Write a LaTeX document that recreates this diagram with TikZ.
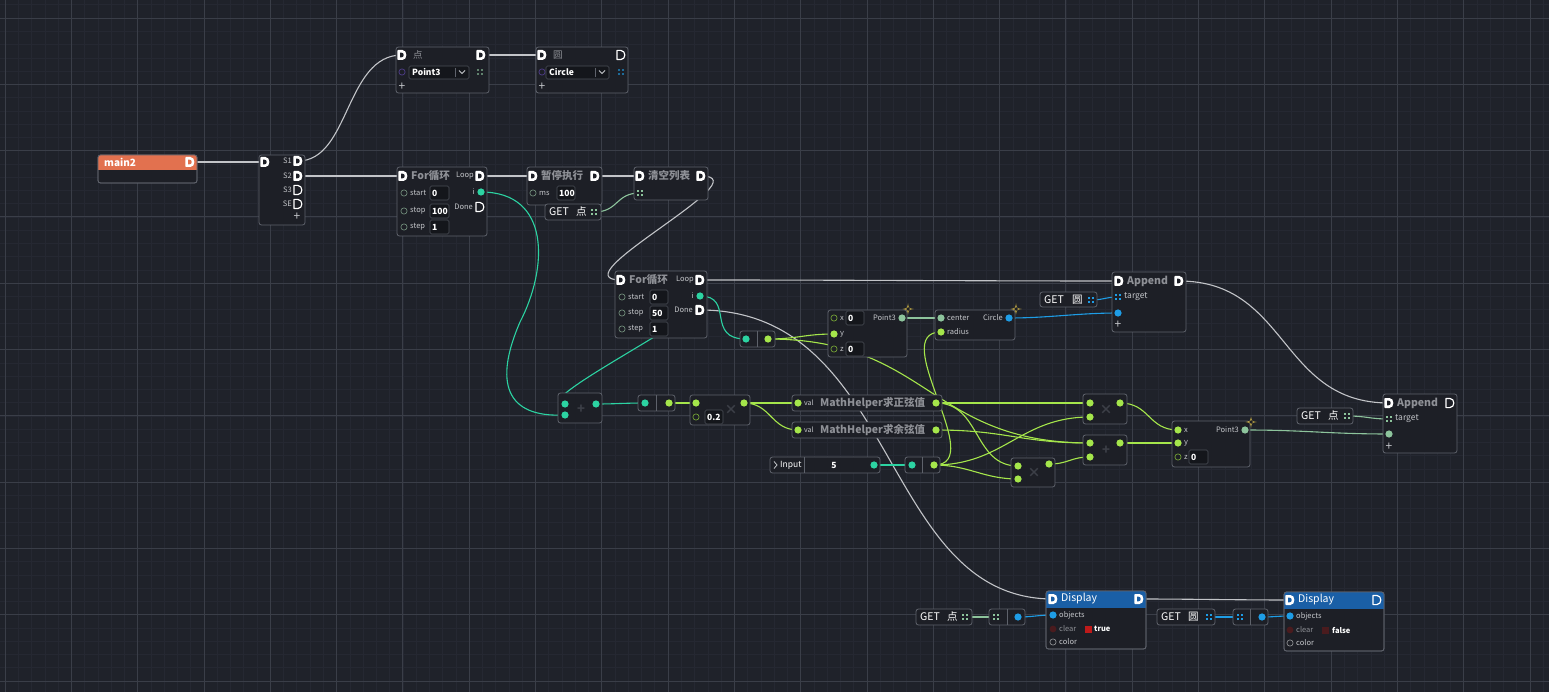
\documentclass[tikz,border=0pt]{standalone}
\usepackage{fontspec}
\setmainfont{Noto Sans CJK SC}
\usetikzlibrary{calc}
\definecolor{bg}{HTML}{1F222A}
\definecolor{gmaj}{HTML}{3A3E48}
\definecolor{gmin}{HTML}{252832}
\definecolor{boxfill}{HTML}{1D1F26}
\definecolor{boxline}{HTML}{5E626B}
\definecolor{txt}{HTML}{C4C6CA}
\definecolor{ttl}{HTML}{8E9096}
\definecolor{dim}{HTML}{3C3F47}
\definecolor{infill}{HTML}{14161B}
\definecolor{inline}{HTML}{4C5058}
\definecolor{wgray}{HTML}{C2C4C8}
\definecolor{cteal}{HTML}{2CD3A2}
\definecolor{clime}{HTML}{A5E64B}
\definecolor{sage}{HTML}{8DC49C}
\definecolor{cblue}{HTML}{1E9DE6}
\definecolor{orng}{HTML}{E2714F}
\definecolor{dhead}{HTML}{1A5FA6}
\definecolor{spark}{HTML}{E8C84A}
\definecolor{rring}{HTML}{6E8A78}
\definecolor{purp}{HTML}{4A3A80}
\definecolor{dred}{HTML}{4A1B1E}
\definecolor{bred}{HTML}{BE1A1A}
\newcommand\NB[6][nbox]{\node[#1, minimum width={#5-#3}, minimum height={#6-#4}] (#2) at ({(#3+#5)/2},{(#4+#6)/2}) {};}
\newcommand\IB[6]{\node[inbox, minimum width={#4-#2}, minimum height={#5-#3}] (#1) at ({(#2+#4)/2},{(#3+#5)/2}) {};
  \node[valtxt, anchor=west] (#1t) at ({#2+2},{(#3+#5)/2}) {#6};}
\newcommand\Pc[3]{\coordinate (#1) at (#2,#3);}
\newcommand\DFu[2][boxfill]{\pic at (#2) {dfull=#1};}
\newcommand\DOp[1]{\pic at (#1) {dopen};}
\newcommand\Dt[2]{\fill[#1] (#2) circle (3.6);}
\newcommand\Rg[2]{\draw[#1, line width=0.7pt] (#2) circle (3.1);}
\newcommand\Gi[2]{\pic at (#2) {gicon=#1};}
\newcommand\Dv[3]{\draw[boxline, line width=0.7pt] (#1,#2) -- (#1,#3);}
\newcommand\Wr[4]{\draw[wire, #1] (#2) .. controls ($(#2)+(#4,0)$) and ($(#3)-(#4,0)$) .. (#3);}
\newcommand\Outl[1]{\draw[boxline, line width=0.8pt, rounded corners=2.5pt] (#1.north west) rectangle (#1.south east);}
\begin{document}
\begin{tikzpicture}[x=1pt,y=-1pt,
  nbox/.style={draw=boxline, fill=boxfill, rounded corners=2.5pt, line width=0.8pt, inner sep=0, outer sep=0, rectangle},
  inbox/.style={draw=inline, fill=infill, rounded corners=1.5pt, line width=0.6pt, inner sep=0, outer sep=0, rectangle},
  lbl/.style={font=\fontsize{7.5}{8}\selectfont, text=txt, inner sep=0},
  ttlf/.style={font=\bfseries\fontsize{10.5}{12}\selectfont, text=ttl, inner sep=0},
  valtxt/.style={font=\bfseries\fontsize{8.5}{9}\selectfont, text=white, inner sep=0},
  gett/.style={font=\fontsize{10.5}{12}\selectfont, text=white, inner sep=0},
  plus/.style={font=\fontsize{12}{12}\selectfont, text=txt, inner sep=0},
  wm/.style={font=\bfseries\fontsize{13}{13}\selectfont, text=dim, inner sep=0},
  wire/.style={line width=1.1pt},
  pics/dfull/.style={code={
    \fill[white, rounded corners=0.8pt] (-4.6,-5) -- (-0.3,-5) .. controls (5.6,-5) and (5.6,5) .. (-0.3,5) -- (-4.6,5) -- cycle;
    \fill[#1] (-2,-2.3) -- (-0.4,-2.3) .. controls (2.4,-2.3) and (2.4,2.3) .. (-0.4,2.3) -- (-2,2.3) -- cycle;}},
  pics/dopen/.style={code={
    \draw[white, line width=1.2pt, line join=round] (-4,-4.6) -- (-0.3,-4.6) .. controls (5.2,-4.6) and (5.2,4.6) .. (-0.3,4.6) -- (-4,4.6) -- cycle;}},
  pics/gicon/.style={code={
    \foreach \a in {-1.7,1.7}{\foreach \b in {-1.7,1.7}{\fill[#1] (\a-0.9,\b-0.9) rectangle ++(1.8,1.8);}}}},
  pics/spk/.style={code={
    \fill[spark] (0,-5.5) .. controls (0.7,-0.7) .. (5.5,0) .. controls (0.7,0.7) .. (0,5.5) .. controls (-0.7,0.7) .. (-5.5,0) .. controls (-0.7,-0.7) .. (0,-5.5) -- cycle;
    \fill[boxfill] (0,-2) .. controls (0.3,-0.3) .. (2,0) .. controls (0.3,0.3) .. (0,2) .. controls (-0.3,0.3) .. (-2,0) .. controls (-0.3,-0.3) .. (0,-2) -- cycle;}}
]
\useasboundingbox (0,0) rectangle (1549,692);
\fill[bg] (0,0) rectangle (1549,692);
% grid
\foreach \i in {0,...,117}{\draw[gmin, line width=0.5pt] ({5+13.26*\i},0) -- ({5+13.26*\i},692);}
\foreach \j in {-1,...,52}{\draw[gmin, line width=0.5pt] (0,{18+13.26*\j}) -- (1549,{18+13.26*\j});}
\foreach \i in {0,...,23}{\draw[gmaj, line width=0.8pt] ({5+66.3*\i},0) -- ({5+66.3*\i},692);}
\foreach \j in {0,...,10}{\draw[gmaj, line width=0.8pt] (0,{18+66.3*\j}) -- (1549,{18+66.3*\j});}

% ---------- ports ----------
\Pc{m2o}{190}{162}\Pc{sqi}{265}{162}\Pc{s1}{298}{161}\Pc{s2}{298}{176}\Pc{s3}{298}{190}\Pc{se}{298}{204}
\Pc{pti}{402}{55}\Pc{pto}{481}{55}\Pc{cii}{542}{55}\Pc{cio}{621}{55}
\Pc{f1i}{403}{176}\Pc{f1l}{480}{176}\Pc{f1x}{481}{192}\Pc{f1d}{480}{207}
\Pc{pzi}{533}{176}\Pc{pzo}{595}{176}\Pc{gp1o}{594}{212}
\Pc{qki}{640}{176}\Pc{qko}{701}{176}\Pc{qkg}{640}{193}
\Pc{f2i}{621}{280}\Pc{f2l}{700}{280}\Pc{f2x}{700}{296}\Pc{f2d}{700}{310}
\Pc{cv1i}{746}{339}\Pc{cv1o}{768}{339}
\Pc{p3mx}{834}{318}\Pc{p3my}{834}{334}\Pc{p3mz}{834}{349}\Pc{p3mo}{902}{318}
\Pc{circ}{941}{318}\Pc{cirr}{941}{332}\Pc{ciro}{1009}{318}
\Pc{ap1i}{1119}{281}\Pc{ap1o}{1179}{281}\Pc{ap1t}{1118}{297}\Pc{ap1v}{1118}{313}
\Pc{gc1o}{1091}{300}
\Pc{pla}{565}{404}\Pc{plb}{565}{415}\Pc{plo}{596}{404}
\Pc{cv2i}{645}{403}\Pc{cv2o}{669}{403}
\Pc{mua}{696}{403}\Pc{mub}{696}{417}\Pc{muo}{744}{403}
\Pc{sni}{798}{403}\Pc{sno}{936}{403}\Pc{csi}{798}{430}\Pc{cso}{936}{430}
\Pc{inpo}{874}{465}\Pc{cv3i}{912}{465}\Pc{cv3o}{934}{465}
\Pc{mAa}{1090}{403}\Pc{mAb}{1090}{417}\Pc{mAo}{1120}{403}
\Pc{pBa}{1090}{443}\Pc{pBb}{1090}{457}\Pc{pBo}{1120}{443}
\Pc{mCa}{1018}{466}\Pc{mCb}{1018}{479}\Pc{mCo}{1049}{464}
\Pc{p3rx}{1178}{430}\Pc{p3ry}{1178}{443}\Pc{p3rz}{1178}{457}\Pc{p3ro}{1245}{430}
\Pc{ap2i}{1389}{403}\Pc{ap2o}{1450}{403}\Pc{ap2t}{1389}{419}\Pc{ap2v}{1389}{434}
\Pc{gp2o}{1347}{416}
\Pc{d1i}{1053}{599}\Pc{d1o}{1139}{599}\Pc{d1b}{1053}{615}\Pc{d1c}{1053}{629}\Pc{d1k}{1053}{642}
\Pc{gp3o}{965}{617}\Pc{cv4i}{996}{617}\Pc{cv4o}{1018}{617}
\Pc{d2i}{1290}{600}\Pc{d2o}{1377}{600}\Pc{d2b}{1290}{616}\Pc{d2c}{1290}{630}\Pc{d2k}{1290}{643}
\Pc{gc2o}{1209}{617}\Pc{cv5i}{1240}{617}\Pc{cv5o}{1262}{617}
\coordinate (t1m) at (520,322);

% ---------- wires ----------
\Wr{wgray}{m2o}{sqi}{30}
\draw[wire, wgray] (s1) .. controls (350,161) and (345,55) .. (pti);
\Wr{wgray}{s2}{f1i}{30}
\Wr{wgray}{pto}{cii}{20}
\Wr{wgray}{f1l}{pzi}{20}
\Wr{wgray}{pzo}{qki}{20}
\draw[wire, wgray] (qko) .. controls (765,176) and (555,280) .. (f2i);
\Wr{wgray}{f2l}{ap1i}{150}
\Wr{wgray}{ap1o}{ap2i}{110}
\draw[wire, wgray] (f2d) .. controls (900,310) and (880,599) .. (d1i);
\Wr{wgray}{d1o}{d2i}{50}
% sage
\Wr{sage}{gp1o}{qkg}{25}
\Wr{sage}{p3mo}{circ}{15}
\Wr{sage}{p3ro}{ap2v}{60}
\Wr{sage}{gp2o}{ap2t}{20}
\Wr{sage}{gp3o}{cv4i}{12}
% blue
\Wr{cblue}{ciro}{ap1v}{40}
\Wr{cblue}{gc1o}{ap1t}{12}
\Wr{cblue}{cv4o}{d1b}{15}
\Wr{cblue}{gc2o}{cv5i}{12}
\Wr{cblue}{cv5o}{d2b}{12}
% teal
\draw[wire, cteal] (f1x) .. controls (551,192) and (548,268) .. (t1m) .. controls (494,382) and (505,418) .. (plb);
\draw[wire, cteal] (f2x) .. controls (745,296) and (520,404) .. (pla);
\draw[wire, cteal] (f2x) .. controls (735,296) and (705,339) .. (cv1i);
\Wr{cteal}{plo}{cv2i}{20}
\Wr{cteal}{inpo}{cv3i}{15}
% lime
\Wr{clime}{cv1o}{p3my}{30}
\Wr{clime}{cv1o}{pBa}{161}
\Wr{clime}{cv2o}{mua}{12}
\Wr{clime}{muo}{sni}{27}
\Wr{clime}{muo}{csi}{27}
\Wr{clime}{sno}{mAa}{70}
\Wr{clime}{cso}{pBa}{70}
\Wr{clime}{cv3o}{mAb}{70}
\Wr{clime}{sno}{mCa}{45}
\Wr{clime}{cv3o}{mCb}{35}
\Wr{clime}{cv3o}{cirr}{55}
\Wr{clime}{mCo}{pBb}{20}
\Wr{clime}{mAo}{p3rx}{30}
\Wr{clime}{pBo}{p3ry}{30}

% ---------- nodes ----------
% main2
\NB{m2}{98}{155}{197}{183}
\begin{scope}\clip (98,155) rectangle (197,170); \fill[orng, rounded corners=2.5pt] (98,155) rectangle (197,178);\end{scope}
\Outl{m2}
\node[font=\bfseries\fontsize{10}{11}\selectfont, text=white, inner sep=0, anchor=west] (m2t) at (104,162.5) {main2};
\DFu[orng]{m2o}
% sequence
\NB{seq}{259}{155}{305}{225}
\DFu{sqi}
\node[lbl, anchor=east] (sq1) at (292,161) {S1};
\node[lbl, anchor=east] (sq2) at (292,176) {S2};
\node[lbl, anchor=east] (sq3) at (292,190) {S3};
\node[lbl, anchor=east] (sq4) at (292,204) {SE};
\DFu{s1}\DFu{s2}\DOp{s3}\DOp{se}
\node[plus] (sqp) at (297,217) {+};
% 点 node
\NB{pt}{396}{47}{489}{93}
\DFu{pti}\DFu{pto}
\node[font=\fontsize{9.5}{10}\selectfont, text=ttl, inner sep=0, anchor=west] (ptt) at (413,55) {点};
\draw[purp, line width=0.8pt] (402,72) circle (3.1);
\node[inbox, minimum width=60, minimum height=13] (ptd) at (439,72.5) {};
\node[valtxt, anchor=west] (ptdt) at (412,72.5) {Point3};
\Dv{455}{68}{77}
\draw[txt, line width=0.8pt] (459,70.5) -- (462,73.5) -- (465,70.5);
\Gi{sage!60!boxfill}{480,72}
\node[plus] (ptp) at (402,87) {+};
% 圆 node
\NB{ci}{536}{47}{628}{93}
\DFu{cii}\DOp{cio}
\node[font=\fontsize{9.5}{10}\selectfont, text=ttl, inner sep=0, anchor=west] (cit) at (553,55) {圆};
\draw[purp, line width=0.8pt] (542,72) circle (3.1);
\node[inbox, minimum width=63, minimum height=13] (cid) at (577.5,72.5) {};
\node[valtxt, anchor=west] (cidt) at (549,72.5) {Circle};
\Dv{595}{68}{77}
\draw[txt, line width=0.8pt] (599,70.5) -- (602,73.5) -- (605,70.5);
\Gi{cblue!60!boxfill}{621,72}
\node[plus] (cip) at (542,87) {+};
% For loop 1
\NB{f1}{397}{167}{487}{236}
\DFu{f1i}\DFu{f1l}
\node[ttlf, anchor=west] (f1t) at (411,176) {For循环};
\node[lbl, anchor=east] (f1lt) at (474,176) {Loop};
\Rg{rring}{404,193}\Rg{rring}{404,211}\Rg{rring}{404,227}
\node[lbl, anchor=west] (f1a) at (410,193) {start};
\node[lbl, anchor=west] (f1b) at (410,211) {stop};
\node[lbl, anchor=west] (f1c) at (410,227) {step};
\IB{f1va}{430}{186}{449}{200}{0}
\IB{f1vb}{430}{204}{449}{218}{100}
\IB{f1vc}{430}{220}{449}{234}{1}
\node[lbl, anchor=east] (f1it) at (475,192) {i};
\Dt{cteal}{f1x}
\node[lbl, anchor=east] (f1dt) at (473,207) {Done};
\DOp{f1d}
% pause
\NB{pz}{527}{167}{602}{205}
\DFu{pzi}\DFu{pzo}
\node[ttlf, anchor=west] (pzt) at (541,176) {暂停执行};
\Rg{rring}{533,193}
\node[lbl, anchor=west] (pzm) at (539,193) {ms};
\IB{pzv}{557}{186}{575}{200}{100}
% GET 点 (1)
\NB{gp1}{545}{204}{601}{220}
\node[gett, anchor=west] (gp1a) at (549,212) {GET};
\node[gett, anchor=west] (gp1b) at (576,212) {点};
\Gi{sage}{gp1o}
% clear list
\NB{qk}{634}{167}{708}{200}
\DFu{qki}\DFu{qko}
\node[ttlf, anchor=west] (qkt) at (648,176) {清空列表};
\Gi{sage}{qkg}
% For loop 2
\NB{f2}{615}{271}{707}{338}
\DFu{f2i}\DFu{f2l}
\node[ttlf, anchor=west] (f2t) at (629,280) {For循环};
\node[lbl, anchor=east] (f2lt) at (694,280) {Loop};
\Rg{rring}{622,297}\Rg{rring}{622,313}\Rg{rring}{622,329}
\node[lbl, anchor=west] (f2a) at (628,297) {start};
\node[lbl, anchor=west] (f2b) at (628,313) {stop};
\node[lbl, anchor=west] (f2c) at (628,329) {step};
\IB{f2va}{650}{290}{668}{304}{0}
\IB{f2vb}{650}{306}{668}{320}{50}
\IB{f2vc}{650}{322}{668}{336}{1}
\node[lbl, anchor=east] (f2it) at (694,296) {i};
\Dt{cteal}{f2x}
\node[lbl, anchor=east] (f2dt) at (693,310) {Done};
\DFu{f2d}
% convert 1
\NB{cv1}{740}{331}{775}{347}
\Dv{757}{331}{347}
\Dt{cteal}{cv1i}\Dt{clime}{cv1o}
% Point3 middle
\NB{p3m}{828}{310}{907}{357}
\Rg{clime!70!black}{p3mx}\Dt{clime}{p3my}\Rg{clime!70!black}{p3mz}
\node[lbl, anchor=west] (p3ma) at (840,318) {x};
\node[lbl, anchor=west] (p3mb) at (840,334) {y};
\node[lbl, anchor=west] (p3mc) at (840,349) {z};
\IB{p3mva}{846}{311}{864}{325}{0}
\IB{p3mvb}{846}{342}{864}{356}{0}
\node[lbl, anchor=east] (p3mt) at (896,318) {Point3};
\Dt{sage}{p3mo}
\pic at (908,309) {spk};
% Circle
\NB{cir}{935}{310}{1015}{340}
\Dt{sage}{circ}\Dt{clime}{cirr}
\node[lbl, anchor=west] (cira) at (947,318) {center};
\node[lbl, anchor=west] (cirb) at (947,332) {radius};
\node[lbl, anchor=east] (cirt) at (1003,318) {Circle};
\Dt{cblue}{ciro}
\pic at (1016,309) {spk};
% Append 1
\NB{ap1}{1112}{272}{1186}{332}
\DFu{ap1i}\DFu{ap1o}
\node[ttlf, anchor=west] (ap1tt) at (1127,281) {Append};
\Gi{cblue}{ap1t}
\node[font=\fontsize{8.5}{9}\selectfont, text=txt, inner sep=0, anchor=west] (ap1tg) at (1124,297) {target};
\Dt{cblue}{ap1v}
\node[plus] (ap1p) at (1118,325) {+};
% GET 圆 (1)
\NB{gc1}{1040}{292}{1097}{307}
\node[gett, anchor=west] (gc1a) at (1044,300) {GET};
\node[gett, anchor=west] (gc1b) at (1072,300) {圆};
\Gi{cblue}{gc1o}
% plus left
\NB{pl}{558}{393}{602}{423}
\Dt{cteal}{pla}\Dt{cteal}{plb}\Dt{cteal}{plo}
\node[wm] (plw) at (581,409) {+};
% convert 2
\NB{cv2}{638}{395}{675}{411}
\Dv{656}{395}{411}
\Dt{cteal}{cv2i}\Dt{clime}{cv2o}
% multiply 0.2
\NB{mu}{690}{395}{750}{425}
\Dt{clime}{mua}\Rg{clime!70!black}{mub}
\IB{muv}{705}{410}{723}{424}{0.2}
\node[wm] (muw) at (731,410) {×};
\Dt{clime}{muo}
% sin / cos
\NB{sn}{792}{395}{942}{411}
\Dt{clime}{sni}\Dt{clime}{sno}
\node[font=\fontsize{7}{7}\selectfont, text=txt, inner sep=0, anchor=west] (snv) at (804,403) {val};
\node[ttlf, anchor=west] (snt) at (820,403) {MathHelper求正弦值};
\NB{cs}{792}{422}{942}{438}
\Dt{clime}{csi}\Dt{clime}{cso}
\node[font=\fontsize{7}{7}\selectfont, text=txt, inner sep=0, anchor=west] (csv) at (804,430) {val};
\node[ttlf, anchor=west] (cst) at (820,430) {MathHelper求余弦值};
% Input
\NB{inp}{770}{457}{880}{473}
\draw[txt, line width=0.8pt] (774,461.5) -- (777,465) -- (774,468.5);
\node[font=\fontsize{8.5}{9}\selectfont, text=white, inner sep=0, anchor=west] (inpt) at (780,465) {Input};
\Dv{804}{457}{473}
\node[valtxt] (inpv) at (834,465) {5};
\Dt{cteal}{inpo}
% convert 3
\NB{cv3}{905}{457}{940}{473}
\Dv{922}{457}{473}
\Dt{cteal}{cv3i}\Dt{clime}{cv3o}
% math right
\NB{mA}{1083}{394}{1127}{424}
\Dt{clime}{mAa}\Dt{clime}{mAb}\Dt{clime}{mAo}
\node[wm] (mAw) at (1106,410) {×};
\NB{pB}{1083}{435}{1127}{465}
\Dt{clime}{pBa}\Dt{clime}{pBb}\Dt{clime}{pBo}
\node[wm] (pBw) at (1106,450) {+};
\NB{mC}{1011}{458}{1055}{487}
\Dt{clime}{mCa}\Dt{clime}{mCb}\Dt{clime}{mCo}
\node[wm] (mCw) at (1034,473) {×};
% Point3 right
\NB{p3r}{1172}{421}{1250}{467}
\Dt{clime}{p3rx}\Dt{clime}{p3ry}\Rg{clime!70!black}{p3rz}
\node[lbl, anchor=west] (p3ra) at (1184,430) {x};
\node[lbl, anchor=west] (p3rb) at (1184,443) {y};
\node[lbl, anchor=west] (p3rc) at (1184,457) {z};
\IB{p3rv}{1189}{450}{1208}{464}{0}
\node[lbl, anchor=east] (p3rt) at (1239,430) {Point3};
\Dt{sage}{p3ro}
\pic at (1251,422) {spk};
% Append 2
\NB{ap2}{1383}{394}{1457}{453}
\DFu{ap2i}\DOp{ap2o}
\node[ttlf, anchor=west] (ap2tt) at (1397,403) {Append};
\Gi{sage}{ap2t}
\node[font=\fontsize{8.5}{9}\selectfont, text=txt, inner sep=0, anchor=west] (ap2tg) at (1395,419) {target};
\Dt{sage}{ap2v}
\node[plus] (ap2p) at (1389,447) {+};
% GET 点 (2)
\NB{gp2}{1297}{408}{1353}{424}
\node[gett, anchor=west] (gp2a) at (1301,416) {GET};
\node[gett, anchor=west] (gp2b) at (1328,416) {点};
\Gi{sage}{gp2o}
% Display 1
\NB{d1}{1046}{591}{1146}{649}
\begin{scope}\clip (1046,591) rectangle (1146,607); \fill[dhead, rounded corners=2.5pt] (1046,591) rectangle (1146,615);\end{scope}
\Outl{d1}
\DFu[dhead]{d1i}\DFu[dhead]{d1o}
\node[font=\fontsize{10.5}{12}\selectfont, text=white, inner sep=0, anchor=west] (d1t) at (1061,599) {Display};
\Dt{cblue}{d1b}
\node[lbl, anchor=west] (d1bt) at (1059,615) {objects};
\fill[dred] (d1c) circle (3.4);
\node[lbl, anchor=west, text=ttl] (d1ct) at (1059,629) {clear};
\fill[bred] (1085,625.5) rectangle (1092,632.5);
\node[font=\bfseries\fontsize{7.5}{8}\selectfont, text=white, inner sep=0, anchor=west] (d1cv) at (1094,629) {true};
\Rg{txt!70!black}{d1k}
\node[lbl, anchor=west] (d1kt) at (1059,642) {color};
% GET 点 (3) + convert 4
\NB{gp3}{916}{609}{972}{625}
\node[gett, anchor=west] (gp3a) at (920,617) {GET};
\node[gett, anchor=west] (gp3b) at (947,617) {点};
\Gi{sage}{gp3o}
\NB{cv4}{989}{609}{1025}{625}
\Dv{1007}{609}{625}
\Gi{sage}{cv4i}\Dt{cblue}{cv4o}
% Display 2
\NB{d2}{1284}{592}{1384}{651}
\begin{scope}\clip (1284,592) rectangle (1384,608); \fill[dhead, rounded corners=2.5pt] (1284,592) rectangle (1384,616);\end{scope}
\Outl{d2}
\DFu[dhead]{d2i}\DOp{d2o}
\node[font=\fontsize{10.5}{12}\selectfont, text=white, inner sep=0, anchor=west] (d2t) at (1298,600) {Display};
\Dt{cblue}{d2b}
\node[lbl, anchor=west] (d2bt) at (1296,616) {objects};
\fill[dred] (d2c) circle (3.4);
\node[lbl, anchor=west, text=ttl] (d2ct) at (1296,630) {clear};
\fill[dred] (1322,626.5) rectangle (1329,633.5);
\node[font=\bfseries\fontsize{7.5}{8}\selectfont, text=white, inner sep=0, anchor=west] (d2cv) at (1332,630) {false};
\Rg{txt!70!black}{d2k}
\node[lbl, anchor=west] (d2kt) at (1296,643) {color};
% GET 圆 (2) + convert 5
\NB{gc2}{1157}{609}{1215}{625}
\node[gett, anchor=west] (gc2a) at (1161,617) {GET};
\node[gett, anchor=west] (gc2b) at (1188,617) {圆};
\Gi{cblue}{gc2o}
\NB{cv5}{1233}{609}{1268}{625}
\Dv{1250}{609}{625}
\Gi{cblue}{cv5i}\Dt{cblue}{cv5o}
\end{tikzpicture}
\end{document}
